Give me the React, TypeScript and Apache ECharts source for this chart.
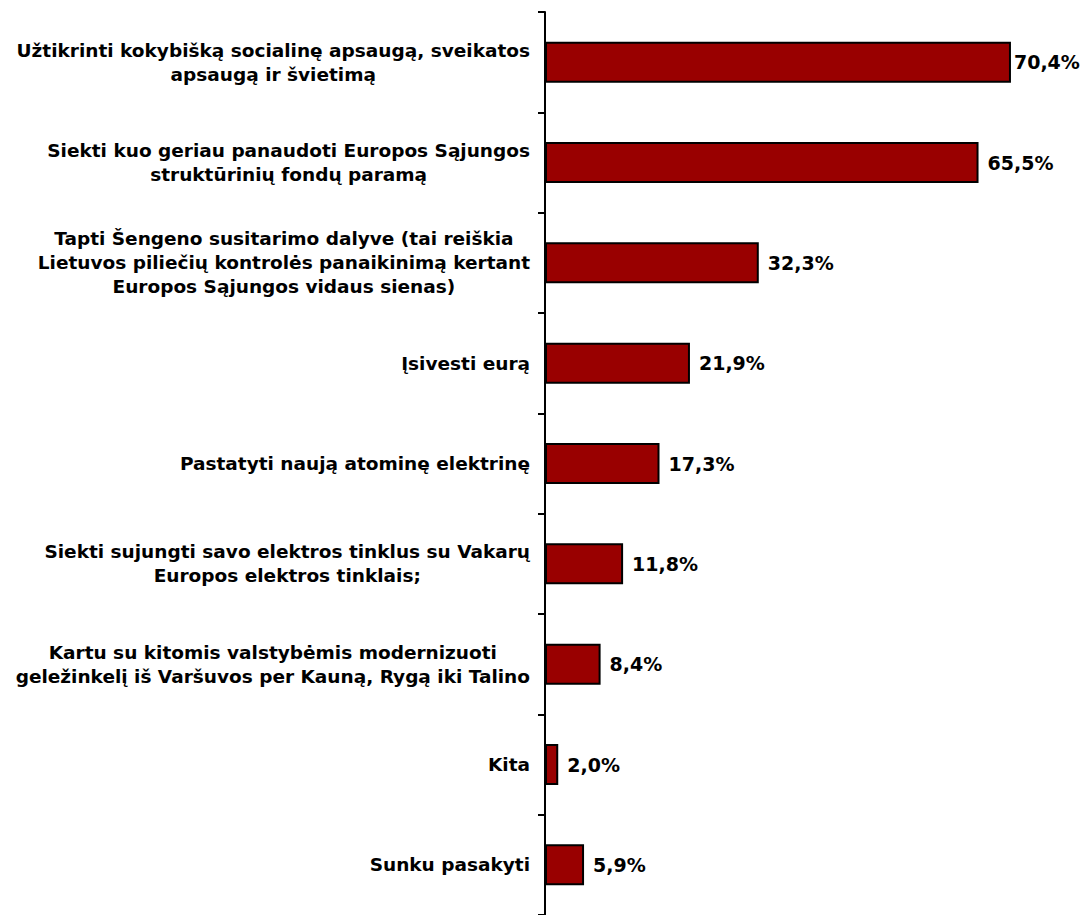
import React, { useEffect, useRef } from "react";
import * as echarts from "echarts";

const categories: string[] = [
  "Užtikrinti kokybišką socialinę apsaugą, sveikatos\napsaugą ir švietimą",
  "Siekti kuo geriau panaudoti Europos Sąjungos\nstruktūrinių fondų paramą",
  "Tapti Šengeno susitarimo dalyve (tai reiškia\nLietuvos piliečių kontrolės panaikinimą kertant\nEuropos Sąjungos vidaus sienas)",
  "Įsivesti eurą",
  "Pastatyti naują atominę elektrinę",
  "Siekti sujungti savo elektros tinklus su Vakarų\nEuropos elektros tinklais;",
  "Kartu su kitomis valstybėmis modernizuoti\ngeležinkelį iš Varšuvos per Kauną, Rygą iki Talino",
  "Kita",
  "Sunku pasakyti",
];

const values: number[] = [70.4, 65.5, 32.3, 21.9, 17.3, 11.8, 8.4, 2.0, 5.9];

const FONT = "'DejaVu Sans', Verdana, sans-serif";

export default function App() {
  const ref = useRef<HTMLDivElement>(null);
  useEffect(() => {
    if (!ref.current) return;
    const chart = echarts.init(ref.current, null, { renderer: "svg" });
    chart.setOption({
      animation: false,
      backgroundColor: "#ffffff",
      grid: { left: 545, top: 12, width: 529.5, height: 908, containLabel: false },
      xAxis: {
        type: "value",
        min: 0,
        max: 80,
        show: false,
      },
      yAxis: {
        type: "category",
        inverse: true,
        data: categories,
        axisLine: { show: true, lineStyle: { color: "#000", width: 2 } },
        axisTick: { show: true, length: 7, lineStyle: { color: "#000", width: 2 } },
        axisLabel: {
          margin: 15,
          formatter: (v: string) =>
            v
              .split("\n")
              .map((l) => `{a|${l}}`)
              .join("\n"),
          rich: {
            a: {
              align: "center",
              fontFamily: FONT,
              fontWeight: "bold",
              fontSize: 18.5,
              lineHeight: 24,
              color: "#000",
            },
          },
        },
        splitLine: { show: false },
      },
      series: [
        {
          type: "bar",
          barWidth: 41,
          data: values.map((v, i) =>
            i === 0 ? { value: v, label: { distance: 3 } } : v
          ),
          itemStyle: { color: "#990000", borderColor: "#000", borderWidth: 2 },
          label: {
            show: true,
            position: "right",
            distance: 9,
            fontFamily: FONT,
            fontWeight: "bold",
            fontSize: 19,
            color: "#000",
            formatter: (p: any) => p.value.toFixed(1).replace(".", ",") + "%",
          },
        },
      ],
    });
    return () => chart.dispose();
  }, []);
  return (
    <div
      ref={ref}
      style={{ position: "absolute", left: 0, top: 0, width: 1085, height: 915 }}
    />
  );
}
